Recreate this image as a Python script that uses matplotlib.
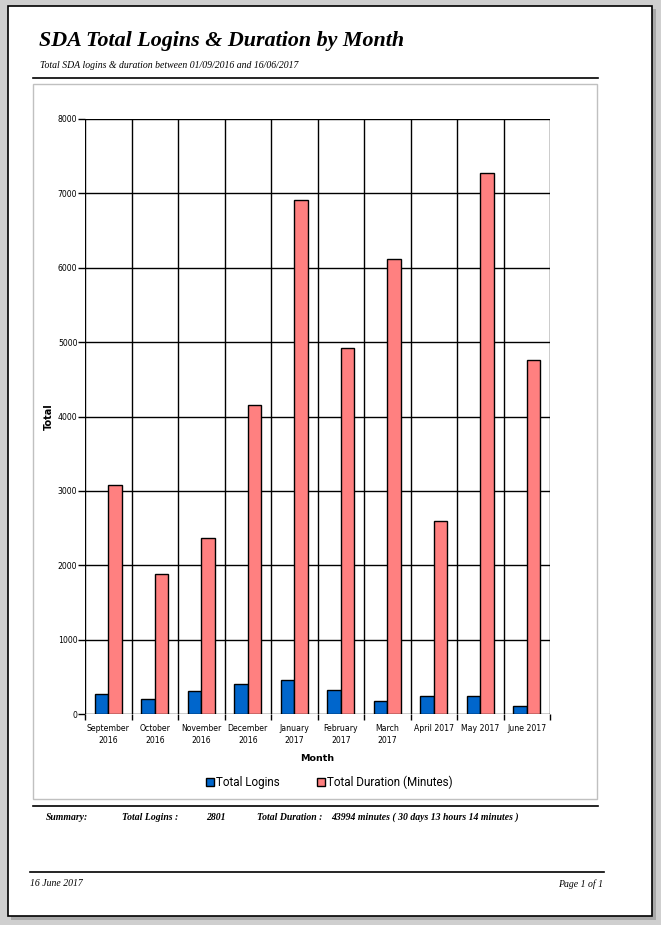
import matplotlib
matplotlib.use("Agg")
import matplotlib.pyplot as plt
from matplotlib.patches import Rectangle, Patch
from matplotlib.lines import Line2D
import numpy as np

months = ["September\n2016", "October\n2016", "November\n2016", "December\n2016",
          "January\n2017", "February\n2017", "March\n2017", "April 2017",
          "May 2017", "June 2017"]
logins = [265, 200, 305, 405, 455, 320, 170, 240, 240, 105]
durations = [3080, 1880, 2365, 4155, 6905, 4920, 6115, 2595, 7270, 4760]
yticks = [0, 1000, 2000, 3000, 4000, 5000, 6000, 7000, 8000]

W, H = 661, 925
fig = plt.figure(figsize=(W / 100, H / 100), dpi=100, facecolor="#cfcfcf")

def fx(x):
    return x / W

def fy(y):
    return 1 - y / H

def rect(x0, y0, x1, y1, **kw):
    fig.patches.append(Rectangle((fx(x0), fy(y1)), fx(x1) - fx(x0), fy(y0) - fy(y1),
                                 transform=fig.transFigure, **kw))

def hline(y, x0, x1, lw=1.2, color="black"):
    fig.lines.append(Line2D([fx(x0), fx(x1)], [fy(y), fy(y)], transform=fig.transFigure,
                            color=color, lw=lw))

# page
rect(11, 9, 656, 920, facecolor="#a8a8a8", edgecolor="none", zorder=-3)
rect(8, 6, 652, 916, facecolor="white", edgecolor="black", lw=1.2, zorder=-2)
# chart box
rect(33, 84, 597, 799, facecolor="white", edgecolor="#c0c0c0", lw=1.0, zorder=-1)

serif = "Liberation Serif"
fig.text(fx(39), fy(41), "SDA Total Logins & Duration by Month", family=serif,
         weight="bold", style="italic", fontsize=15.8, va="center", ha="left")
fig.text(fx(40), fy(65), "Total SDA logins & duration between 01/09/2016 and 16/06/2017",
         family=serif, style="italic", fontsize=7.0, va="center", ha="left")
hline(78, 33, 598)

hline(806, 33, 598)
sy = 817
for x, s in [(46, "Summary:"), (122, "Total Logins :"), (206, "2801"),
             (257, "Total Duration :"), (331, "43994 minutes ( 30 days 13 hours 14 minutes )")]:
    fig.text(fx(x), fy(sy), s, family=serif, weight="bold", style="italic",
             fontsize=7.0, va="center", ha="left")

hline(872, 30, 604)
fig.text(fx(30), fy(884), "16 June 2017", family=serif, style="italic", fontsize=7.0,
         va="center", ha="left")
fig.text(fx(603), fy(884), "Page 1 of 1", family=serif, style="italic", fontsize=7.0,
         va="center", ha="right")

# axes
ax = fig.add_axes([fx(85), fy(714), fx(550) - fx(85), fy(119) - fy(714)])
ax.set_facecolor("white")
x = np.arange(len(months))
w = 0.285
ax.bar(x - w / 2, logins, width=w, color="#0066CC", edgecolor="black", lw=1.0,
       label="Total Logins", zorder=3)
ax.bar(x + w / 2, durations, width=w, color="#FF8080", edgecolor="black", lw=1.0,
       label="Total Duration (Minutes)", zorder=3)
ax.set_xlim(-0.5, len(months) - 0.5)
ax.set_ylim(0, 8000)
for yv in yticks:
    ax.axhline(yv, color="black", lw=1.0, zorder=1)
for b in np.arange(-0.5, len(months), 1.0):
    ax.axvline(b, color="black", lw=1.0, zorder=1)
for sp in ax.spines.values():
    sp.set_visible(False)
ax.set_yticks(yticks)
ax.set_yticklabels([str(v) for v in yticks], fontsize=5.6, family="DejaVu Sans")
ax.tick_params(axis="y", length=5, width=1.0, pad=0.5)
ax.set_xticks(x)
ax.set_xticklabels(months, fontsize=5.6, family="DejaVu Sans", linespacing=1.5)
ax.set_xticks(np.arange(-0.5, len(months), 1.0), minor=True)
ax.tick_params(axis="x", which="major", length=0, pad=7)
ax.tick_params(axis="x", which="minor", length=4, width=1.0, direction="out")
ax.set_ylabel("Total", fontsize=7, weight="bold", family="DejaVu Sans", labelpad=3)
ax.set_xlabel("Month", fontsize=6.8, weight="bold", family="DejaVu Sans", labelpad=6)

handles = [Patch(facecolor="#0066CC", edgecolor="black", lw=1.0, label="Total Logins"),
           Patch(facecolor="#FF8080", edgecolor="black", lw=1.0, label="Total Duration (Minutes)")]
fig.legend(handles=handles, loc="center", bbox_to_anchor=(fx(329), fy(782)), ncol=2,
           frameon=False, prop={"family": "Roboto", "size": 8.4},
           handlelength=0.7, handleheight=0.7, handletextpad=0.15, columnspacing=3.2)

fig.savefig("out.png", dpi=100, facecolor=fig.get_facecolor())
